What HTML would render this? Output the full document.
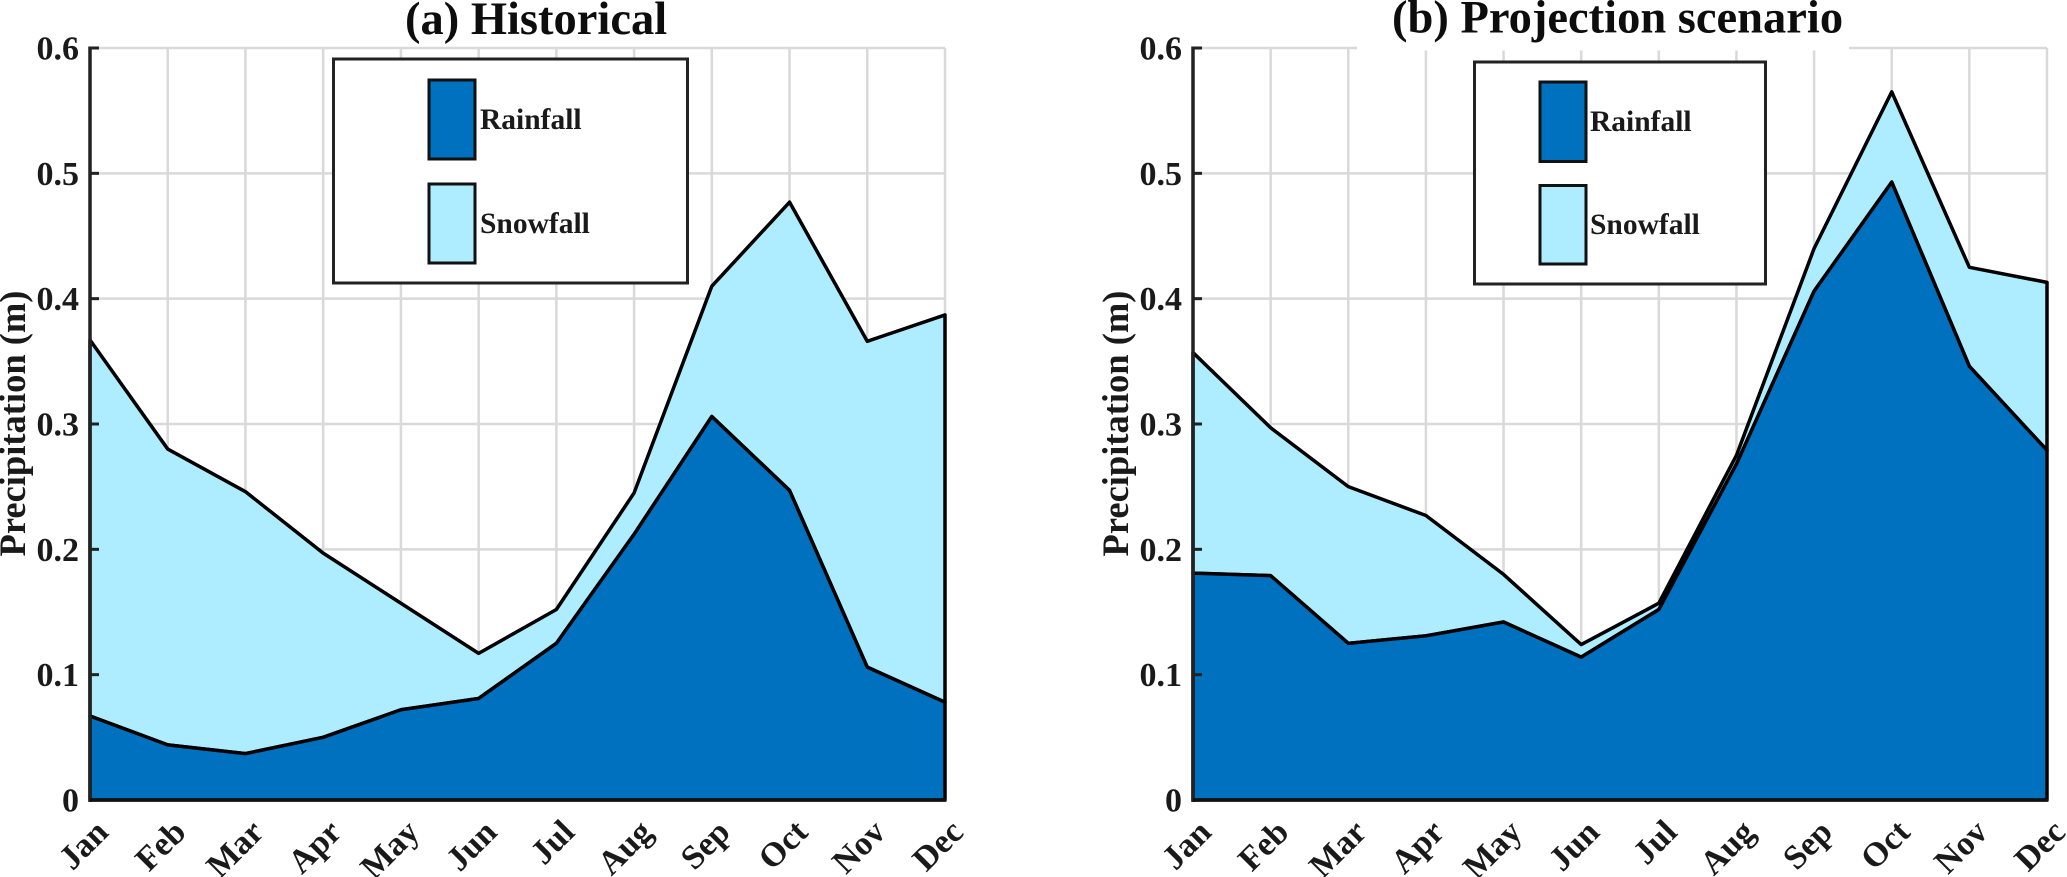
<!DOCTYPE html>
<html lang="en">
<head>
<meta charset="utf-8">
<title>Monthly precipitation: historical and projection scenario</title>
<style>
html,body{margin:0;padding:0;background:#fff;}
svg{display:block;}
text{font-family:"Liberation Serif",serif;font-weight:bold;fill:#1a1a1a;}
</style>
</head>
<body>
<svg id="chart" xmlns="http://www.w3.org/2000/svg" width="2067" height="877" viewBox="0 0 2067 877"></svg>
<script>
const months = ['Jan','Feb','Mar','Apr','May','Jun','Jul','Aug','Sep','Oct','Nov','Dec'];
const yTicks = [0, 0.1, 0.2, 0.3, 0.4, 0.5, 0.6];
const yTickLabels = ['0','0.1','0.2','0.3','0.4','0.5','0.6'];
const historicalRain = [0.067,0.044,0.037,0.050,0.072,0.081,0.125,0.212,0.306,0.247,0.106,0.078];
const historicalSnow = [0.300,0.236,0.209,0.147,0.085,0.036,0.027,0.033,0.104,0.230,0.260,0.309];
const projectionRain = [0.181,0.179,0.125,0.131,0.142,0.114,0.152,0.268,0.406,0.493,0.346,0.279];
const projectionSnow = [0.176,0.118,0.125,0.096,0.038,0.010,0.005,0.007,0.034,0.072,0.079,0.134];

const SVG_NS = 'http://www.w3.org/2000/svg';
const svg = document.getElementById('chart');
const RAIN = '#0071bf', SNOW = '#aeedff', GRID = '#d9d9d9', AXIS = '#222222';
const TOP = 48, BOTTOM = 800, YMAX = 0.6;

function make(tag, attrs, parent, text) {
  const el = document.createElementNS(SVG_NS, tag);
  for (const k in attrs) el.setAttribute(k, attrs[k]);
  if (text !== undefined) el.textContent = text;
  parent.appendChild(el);
  return el;
}

function drawPanel(p) {
  const xAt = i => p.left + (p.right - p.left) * i / (months.length - 1);
  const yAt = v => BOTTOM - (BOTTOM - TOP) * v / YMAX;
  const g = make('g', {}, svg);
  
  

  // grid
  months.forEach((m, i) => {
    if (i === 0) return;
    const l = make('line', {x1: xAt(i), x2: xAt(i), y1: TOP, y2: BOTTOM, stroke: GRID, 'stroke-width': 2.5}, g);
    
    
  });
  yTicks.forEach((t, i) => {
    if (i === 0) return;
    const l = make('line', {x1: p.left, x2: p.right, y1: yAt(t), y2: yAt(t), stroke: GRID, 'stroke-width': 2.5}, g);
    
    
  });

  // title backing
  if (p.titleMask) {
    make('rect', {x: p.titleMask[0], y: 0, width: p.titleMask[1] - p.titleMask[0], height: 50.5, fill: '#fff'}, g);
  }

  // stacked areas
  const rainPts = p.rain.map((v, i) => xAt(i) + ',' + yAt(v));
  const topPts = p.rain.map((v, i) => xAt(i) + ',' + yAt(v + p.snow[i]));
  const snowArea = make('polygon', {
    points: topPts.concat(rainPts.slice().reverse()).join(' '),
    fill: SNOW, stroke: '#000', 'stroke-width': 3.5, 'stroke-linejoin': 'round'
  }, g);
  
  
  const rainArea = make('polygon', {
    points: rainPts.concat([xAt(11) + ',' + yAt(0), xAt(0) + ',' + yAt(0)]).join(' '),
    fill: RAIN, stroke: '#000', 'stroke-width': 3.5, 'stroke-linejoin': 'round'
  }, g);
  
  

  // axes
  const yAxis = make('line', {x1: p.left, x2: p.left, y1: TOP - 1.5, y2: BOTTOM + 2, stroke: AXIS, 'stroke-width': 3.5}, g);
  
  
  const xAxis = make('line', {x1: p.left, x2: p.right + 1.5, y1: BOTTOM, y2: BOTTOM, stroke: '#111', 'stroke-width': 3.5}, g);
  
  

  // y ticks and labels
  yTicks.forEach((t, i) => {
    if (i > 0) {
      const tick = make('line', {x1: p.left, x2: p.left + 9, y1: yAt(t), y2: yAt(t), stroke: AXIS, 'stroke-width': 3}, g);
      
      
    }
    const label = make('text', {x: p.left - 11, y: yAt(t) + 11.5, 'text-anchor': 'end', 'font-size': 34}, g, yTickLabels[i]);
    
    
  });

  // x labels
  months.forEach((m, i) => {
    const ax = xAt(i) + 20, ay = 834;
    const label = make('text', {
      x: ax, y: ay, 'text-anchor': 'end', 'font-size': 34,
      transform: 'rotate(-45 ' + ax + ' ' + ay + ')'
    }, g, m);
    
    
  });

  // y axis title
  const yTitle = make('text', {
    x: p.yTitleX, y: 423.5, 'text-anchor': 'middle', 'font-size': 36.5,
    transform: 'rotate(-90 ' + p.yTitleX + ' 423.5)'
  }, g, 'Precipitation (m)');
  
  

  // title
  const title = make('text', {x: p.titleX, y: p.titleY, 'font-size': 46.5, style: 'fill:#0d0d0d'}, g, p.title);
  
  

  // legend
  const L = p.legend;
  const lg = make('g', {}, g);
  
  
  make('rect', {x: L.x, y: L.y, width: L.w, height: L.h, fill: '#fff', stroke: AXIS, 'stroke-width': 3}, lg);
  const rs = make('rect', {x: L.sx, y: L.ry, width: L.sw, height: L.rh, fill: RAIN, stroke: '#111', 'stroke-width': 3}, lg);
  
  
  const rt = make('text', {x: L.tx, y: L.rb, 'font-size': 29.5}, lg, 'Rainfall');
  
  
  const ss = make('rect', {x: L.sx, y: L.sy, width: L.sw, height: L.sh, fill: SNOW, stroke: '#111', 'stroke-width': 3}, lg);
  
  
  const st = make('text', {x: L.tx, y: L.sb, 'font-size': 29.5}, lg, 'Snowfall');
  
  
}

drawPanel({
  key: 'historical', left: 90, right: 945, rain: historicalRain, snow: historicalSnow,
  title: '(a) Historical', titleX: 405, titleY: 34, yTitleX: 25, titleMask: null,
  legend: {x: 333.5, y: 59, w: 354, h: 224, sx: 429, sw: 46, ry: 80, rh: 79, sy: 184, sh: 79, tx: 480, rb: 129, sb: 233}
});
drawPanel({
  key: 'projection', left: 1193, right: 2047, rain: projectionRain, snow: projectionSnow,
  title: '(b) Projection scenario', titleX: 1392, titleY: 32.5, yTitleX: 1128, titleMask: [1357, 1849],
  legend: {x: 1474.5, y: 62, w: 291, h: 222, sx: 1540, sw: 46, ry: 82, rh: 79.5, sy: 185.5, sh: 78.5, tx: 1590, rb: 131, sb: 234}
});
</script>
</body>
</html>
